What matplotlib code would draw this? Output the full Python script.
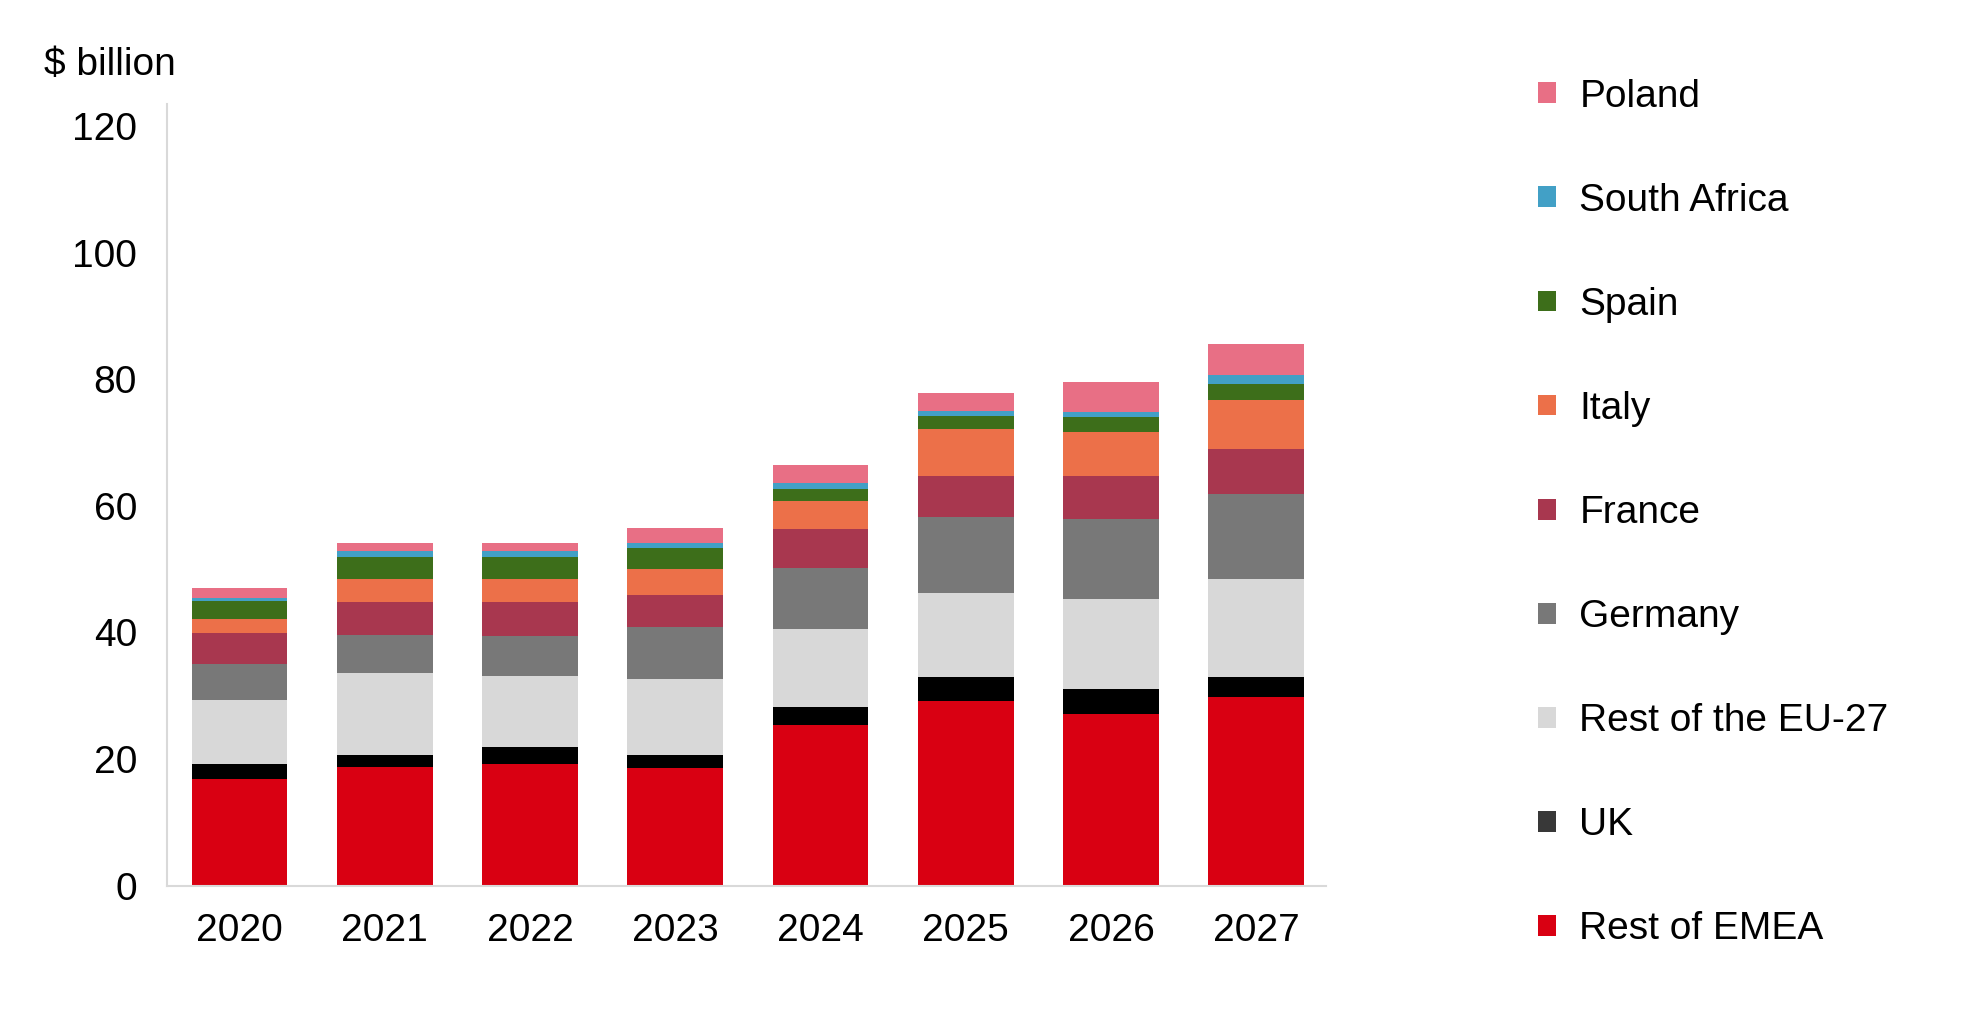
import numpy as np
import matplotlib.pyplot as plt
from matplotlib.patches import Patch

plt.rcParams['font.family'] = ['Liberation Sans', 'DejaVu Sans']

years = ['2020', '2021', '2022', '2023', '2024', '2025', '2026', '2027']

# segment sizes, bottom to top ($ billion)
rest_of_emea = [16.8, 18.8, 19.2, 18.6, 25.4, 29.2, 27.1, 29.8]
uk = [2.5, 1.9, 2.7, 2.1, 2.8, 3.7, 3.9, 3.1]
rest_of_eu27 = [10.0, 12.9, 11.3, 12.0, 12.4, 13.4, 14.3, 15.5]
germany = [5.8, 6.0, 6.2, 8.1, 9.6, 12.0, 12.7, 13.5]
france = [4.8, 5.2, 5.4, 5.2, 6.1, 6.5, 6.8, 7.1]
italy = [2.3, 3.6, 3.6, 4.1, 4.4, 7.4, 6.8, 7.7]
spain = [2.8, 3.6, 3.6, 3.3, 2.0, 2.0, 2.4, 2.5]
south_africa = [0.5, 0.8, 0.8, 0.7, 0.9, 0.8, 0.8, 1.4]
poland = [1.5, 1.4, 1.4, 2.4, 2.8, 2.8, 4.7, 5.0]

series = [
    ('Rest of EMEA', rest_of_emea, '#D90012'),
    ('UK', uk, '#000000'),
    ('Rest of the EU-27', rest_of_eu27, '#D8D8D8'),
    ('Germany', germany, '#787878'),
    ('France', france, '#A8374F'),
    ('Italy', italy, '#EC7049'),
    ('Spain', spain, '#3D6E1A'),
    ('South Africa', south_africa, '#42A0C6'),
    ('Poland', poland, '#E86F85'),
]
legend_colors = {'UK': '#383838'}

fig = plt.figure(figsize=(19.8, 10.09), dpi=100)
ax = fig.add_axes([0.0843, 0.1222, 0.5854, 0.7748])

x = np.arange(len(years))
bottom = np.zeros(len(years))
for name, vals, color in series:
    ax.bar(x, vals, width=0.66, bottom=bottom, color=color, linewidth=0)
    bottom += np.array(vals)

ax.set_xlim(-0.5, 7.48)
ax.set_ylim(0, 123.5)
ax.set_yticks(np.arange(0, 121, 20))
ax.set_xticks(x)
ax.set_xticklabels(years)
ax.tick_params(axis='both', length=0, labelsize=28, colors='black')
ax.tick_params(axis='y', pad=21.5)
ax.tick_params(axis='x', pad=20)

for side in ['top', 'right']:
    ax.spines[side].set_visible(False)
for side in ['left', 'bottom']:
    ax.spines[side].set_color('#D9D9D9')
    ax.spines[side].set_linewidth(1.5)

fig.text(0.022, 0.9355, '$ billion', fontsize=28, va='center', ha='left')

handles = [Patch(facecolor=legend_colors.get(name, color), label=name)
           for name, vals, color in series[::-1]]
fig.legend(handles=handles, loc='upper left', bbox_to_anchor=(0.777, 0.922),
           frameon=False, fontsize=28, labelspacing=1.75, handlelength=0.45,
           handleheight=0.45, handletextpad=0.6, borderpad=0, borderaxespad=0)

fig.savefig('out.png', dpi=100)
